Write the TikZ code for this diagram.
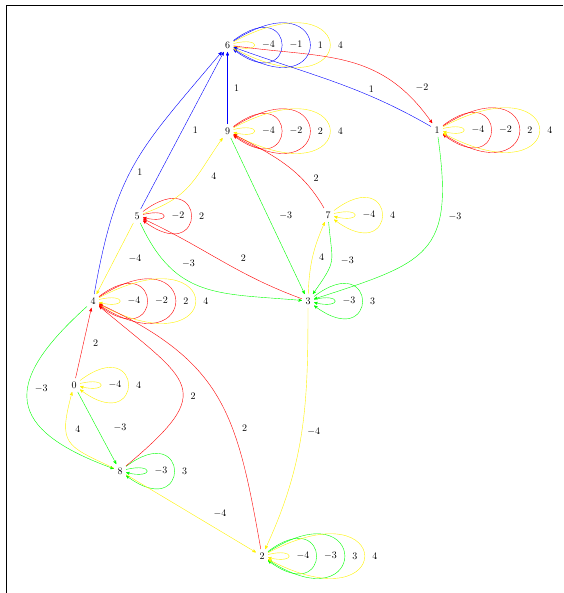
\documentclass[tikz,border=0pt]{standalone}
\usepackage{tikz}
\usetikzlibrary{arrows}

\begin{document}
\begin{tikzpicture}[x=1pt,y=1pt,>=stealth',
    wone/.style={->,blue,text=black},
    wtwo/.style={->,red,text=black},
    wthree/.style={->,green,text=black},
    wfour/.style={->,yellow,text=black},
    loopa/.style={out=14,in=-14,min distance=29pt,looseness=1},
    loopb/.style={out=37,in=-37,min distance=81pt,looseness=1},
    loopc/.style={out=33,in=-33,min distance=122pt,looseness=1},
    loopd/.style={out=28,in=-28,min distance=146pt,looseness=1},
    lplab/.style={right=4pt}]
    \useasboundingbox (0,0) rectangle (563,593);
    % Khung
    \draw[line width=0.8pt] (6,0) -- (6,587.5) -- (563,587.5);
    % Các đỉnh
    \node (n6) at (227.5,548) {6};
    \node (n9) at (227.5,462) {9};
    \node (n1) at (437,463) {1};
    \node (n5) at (137,377) {5};
    \node (n7) at (328,378) {7};
    \node (n4) at (93,292) {4};
    \node (n3) at (308,292) {3};
    \node (n0) at (74,208) {0};
    \node (n8) at (120,122) {8};
    \node (n2) at (262,37) {2};
    % Vòng lặp
    \draw[wfour] (n6) to[loopa] node[lplab] {$-4$} (n6);
    \draw[wone] (n6) to[loopb] node[lplab] {$-1$} (n6);
    \draw[wone] (n6) to[loopc] node[lplab] {$1$} (n6);
    \draw[wfour] (n6) to[loopd] node[lplab] {$4$} (n6);
    \draw[wfour] (n9) to[loopa] node[lplab] {$-4$} (n9);
    \draw[wtwo] (n9) to[loopb] node[lplab] {$-2$} (n9);
    \draw[wtwo] (n9) to[loopc] node[lplab] {$2$} (n9);
    \draw[wfour] (n9) to[loopd] node[lplab] {$4$} (n9);
    \draw[wfour] (n1) to[loopa] node[lplab] {$-4$} (n1);
    \draw[wtwo] (n1) to[loopb] node[lplab] {$-2$} (n1);
    \draw[wtwo] (n1) to[loopc] node[lplab] {$2$} (n1);
    \draw[wfour] (n1) to[loopd] node[lplab] {$4$} (n1);
    \draw[wtwo] (n5) to[loopa] node[lplab] {$-2$} (n5);
    \draw[wtwo] (n5) to[loopb] node[lplab] {$2$} (n5);
    \draw[wfour] (n7) to[loopa] node[lplab] {$-4$} (n7);
    \draw[wfour] (n7) to[loopb] node[lplab] {$4$} (n7);
    \draw[wfour] (n4) to[loopa] node[lplab] {$-4$} (n4);
    \draw[wtwo] (n4) to[loopb] node[lplab] {$-2$} (n4);
    \draw[wtwo] (n4) to[loopc] node[lplab] {$2$} (n4);
    \draw[wfour] (n4) to[loopd] node[lplab] {$4$} (n4);
    \draw[wthree] (n3) to[loopa] node[lplab] {$-3$} (n3);
    \draw[wthree] (n3) to[loopb] node[lplab] {$3$} (n3);
    \draw[wfour] (n0) to[loopa] node[lplab] {$-4$} (n0);
    \draw[wfour] (n0) to[loopb] node[lplab] {$4$} (n0);
    \draw[wthree] (n8) to[loopa] node[lplab] {$-3$} (n8);
    \draw[wthree] (n8) to[loopb] node[lplab] {$3$} (n8);
    \draw[wfour] (n2) to[loopa] node[lplab] {$-4$} (n2);
    \draw[wthree] (n2) to[loopb] node[lplab] {$-3$} (n2);
    \draw[wthree] (n2) to[loopc] node[lplab] {$3$} (n2);
    \draw[wfour] (n2) to[loopd] node[lplab] {$4$} (n2);
    % Cạnh trọng số 1
    \draw[wone] (n9) -- node[right=3pt] {$1$} (n6);
    \draw[wone] (n5) -- node[right=7pt] {$1$} (n6);
    \draw[wone] (n4) to[out=80,in=-130,looseness=1.2] node[pos=0.45,right=4pt] {$1$} (n6);
    \draw[wone] (n1) to[out=150,in=-20] node[pos=0.3,above] {$1$} (n6);
    % Cạnh trọng số 2
    \draw[wtwo] (n6) to[out=-8,in=125,looseness=1.1] node[pos=0.8,right=12pt] {$-2$} (n1);
    \draw[wtwo] (n7) to[out=120,in=-28] node[pos=0.3,right=8pt] {$2$} (n9);
    \draw[wtwo] (n3) to[out=160,in=-25] node[pos=0.35,above=8pt] {$2$} (n5);
    \draw[wtwo] (n0) -- node[right=6pt] {$2$} (n4);
    \draw[wtwo] (n8) to[out=40,in=-40,looseness=1.9] node[pos=0.42,right=4pt] {$2$} (n4);
    \draw[wtwo] (n2) to[out=100,in=-25,looseness=1.2] node[pos=0.37,right=6pt] {$2$} (n4);
    % Cạnh trọng số -3
    \draw[wthree] (n9) -- node[right=8pt] {$-3$} (n3);
    \draw[wthree] (n1) to[out=-82,in=18,looseness=1.5] node[pos=0.3,right=5pt] {$-3$} (n3);
    \draw[wthree] (n7) to[out=-85,in=55,looseness=1.5] node[right=6pt] {$-3$} (n3);
    \draw[wthree] (n5) to[out=-65,in=175,looseness=1.2] node[pos=0.4,above=10pt] {$-3$} (n3);
    \draw[wthree] (n4) to[out=-138,in=160,looseness=1.8] node[pos=0.42,right=4pt] {$-3$} (n8);
    \draw[wthree] (n0) -- node[right=13pt] {$-3$} (n8);
    % Cạnh trọng số 4
    \draw[wfour] (n5) to[out=20,in=-125,looseness=1.2] node[pos=0.62,right=11pt] {$4$} (n9);
    \draw[wfour] (n5) -- node[right=10pt] {$-4$} (n4);
    \draw[wfour] (n3) to[out=88,in=-114] node[right=3pt] {$4$} (n7);
    \draw[wfour] (n3) to[out=-90,in=65] node[right=2pt] {$-4$} (n2);
    \draw[wfour] (n8) to[out=155,in=-105,looseness=1.6] node[pos=0.68,right=6pt] {$4$} (n0);
    \draw[wfour] (n8) -- node[right=19pt] {$-4$} (n2);
\end{tikzpicture}
\end{document}
